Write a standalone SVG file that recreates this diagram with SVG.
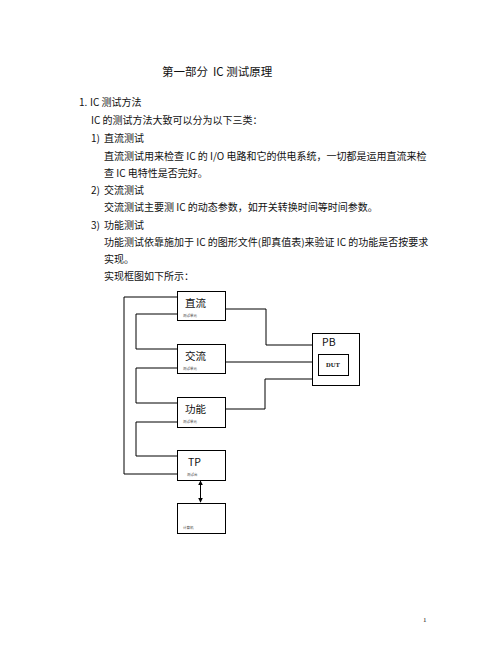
<svg xmlns="http://www.w3.org/2000/svg" width="502" height="649" viewBox="0 0 502 649">
<style>
.t{font-family:"Noto Sans CJK SC","Noto Sans",sans-serif;font-size:10px;fill:#111}
.h{font-family:"Noto Sans CJK SC","Noto Sans",sans-serif;font-size:11.5px;fill:#111}
.box{fill:#fff;stroke:#000;stroke-width:1}
.ln{fill:none;stroke:#000;stroke-width:1}
.lbl{font-family:"Noto Sans CJK SC","Noto Sans",sans-serif;font-size:10.5px;fill:#111}
.tiny{font-family:"Noto Sans CJK SC",sans-serif;font-size:3.5px;fill:#444}
.dut{font-family:"Liberation Serif",serif;font-size:6.5px;font-weight:bold;fill:#111}
</style>
<defs>
<marker id="ah" viewBox="0 0 8 8" refX="7" refY="4" markerWidth="5" markerHeight="5" orient="auto-start-reverse">
<path d="M0,0 L8,4 L0,8 z" fill="#000"/>
</marker>
</defs>
<rect width="502" height="649" fill="#fff"/>
<g id="text">
<text class="h" x="162" y="76">第一部分</text>
<text class="h" x="213" y="76">IC 测试原理</text>
<text class="t" x="79" y="106">1.</text>
<text class="t" x="90" y="106">IC 测试方法</text>
<text class="t" x="91" y="124">IC 的测试方法大致可以分为以下三类：</text>
<text class="t" x="91" y="142">1)</text>
<text class="t" x="104" y="142">直流测试</text>
<text class="t" x="104" y="160">直流测试用来检查 IC 的 I/O 电路和它的供电系统，一切都是运用直流来检</text>
<text class="t" x="104" y="177">查 IC 电特性是否完好。</text>
<text class="t" x="91" y="194">2)</text>
<text class="t" x="104" y="194">交流测试</text>
<text class="t" x="104" y="211">交流测试主要测 IC 的动态参数，如开关转换时间等时间参数。</text>
<text class="t" x="91" y="229">3)</text>
<text class="t" x="104" y="229">功能测试</text>
<text class="t" x="104" y="246">功能测试依靠施加于 IC 的图形文件(即真值表)来验证 IC 的功能是否按要求</text>
<text class="t" x="104" y="263">实现。</text>
<text class="t" x="104" y="280">实现框图如下所示：</text>
<text x="423" y="622" font-family="Liberation Serif,serif" font-size="7" fill="#111">1</text>
</g>
<g id="connectors">
<path class="ln" d="M177,297 H124 V474 H177"/>
<path class="ln" d="M177,314 H136 V349 H177"/>
<path class="ln" d="M177,368 H136 V403 H177"/>
<path class="ln" d="M177,422 H136 V456 H177"/>
<path class="ln" d="M225,309 H266 V345 H312"/>
<path class="ln" d="M225,362 H312"/>
<path class="ln" d="M225,409 H265 V379 H312"/>
<path class="ln" d="M200.5,481 V502" marker-start="url(#ah)" marker-end="url(#ah)"/>
</g>
<g id="dc">
<rect class="box" x="177.5" y="291.5" width="48" height="29"/>
<text class="lbl" x="185" y="307">直流</text>
<text class="tiny" x="183" y="317">测试单元</text>
</g>
<g id="ac">
<rect class="box" x="177.5" y="344.5" width="48" height="29"/>
<text class="lbl" x="185" y="360">交流</text>
<text class="tiny" x="183" y="370">测试单元</text>
</g>
<g id="func">
<rect class="box" x="177.5" y="397.5" width="48" height="30"/>
<text class="lbl" x="185" y="413">功能</text>
<text class="tiny" x="183" y="423">测试单元</text>
</g>
<g id="tp">
<rect class="box" x="177.5" y="450.5" width="48" height="30"/>
<text class="lbl" x="188" y="466">TP</text>
<text class="tiny" x="187" y="476">测试台</text>
</g>
<g id="pc">
<rect class="box" x="177.5" y="503.5" width="48" height="30"/>
<text class="tiny" x="183" y="529">计算机</text>
</g>
<g id="pb">
<rect class="box" x="312.5" y="333.5" width="47" height="52"/>
<text class="lbl" x="322" y="346">PB</text>
</g>
<g id="dut">
<rect class="box" x="318.5" y="354.5" width="30" height="21"/>
<text class="dut" x="326" y="367">DUT</text>
</g>
</svg>
